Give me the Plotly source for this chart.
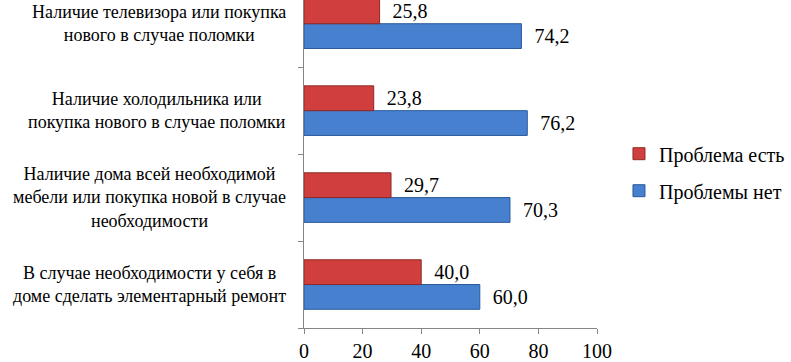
import plotly.graph_objects as go

categories = [
    "В случае необходимости у себя в<br>доме сделать элементарный ремонт",
    "Наличие дома всей необходимой<br>мебели или покупка новой в случае<br>необходимости",
    "Наличие холодильника или<br>покупка нового в случае поломки",
    "Наличие телевизора или покупка<br>нового в случае поломки",
]
no_problem = [60.0, 70.3, 76.2, 74.2]
has_problem = [40.0, 29.7, 23.8, 25.8]
series_names = ["Проблемы нет", "Проблема есть"]
x_ticks = [0, 20, 40, 60, 80, 100]

FONT = "Liberation Serif"
NB = "\u00a0\u00a0"

def fmt(v):
    return NB + f"{v:.1f}".replace(".", ",")

ypos = list(range(len(categories)))

fig = go.Figure()
fig.add_trace(go.Bar(
    y=ypos, x=no_problem, orientation="h", name=series_names[0],
    marker=dict(color="#4680CF", line=dict(color="#2A5A9A", width=1)),
    text=[fmt(v) for v in no_problem], textposition="outside",
    textfont=dict(family=FONT, size=20, color="#000000"),
    constraintext="none", cliponaxis=False, legendgroup="a", legendrank=2,
))
fig.add_trace(go.Bar(
    y=ypos, x=has_problem, orientation="h", name=series_names[1],
    marker=dict(color="#D03F3D", line=dict(color="#8E2A28", width=1)),
    text=[fmt(v) for v in has_problem], textposition="outside",
    textfont=dict(family=FONT, size=20, color="#000000"),
    constraintext="none", cliponaxis=False, legendgroup="b", legendrank=1,
))

annotations = []
for i, c in enumerate(categories):
    annotations.append(dict(
        x=-0.053, xref="paper", y=i, yref="y", text=c, showarrow=False,
        xanchor="right", yanchor="middle", align="center",
        font=dict(family=FONT, size=18, color="black"),
    ))

fig.update_layout(
    width=791, height=362,
    margin=dict(l=304, r=194, t=0, b=30),
    paper_bgcolor="white", plot_bgcolor="white",
    font=dict(family=FONT, size=17, color="black"),
    annotations=annotations,
    barmode="group", bargap=0.43, bargroupgap=0,
    showlegend=True,
    legend=dict(
        x=1.075, y=0.475, xanchor="left", yanchor="middle",
        traceorder="grouped", tracegroupgap=8,
        font=dict(family=FONT, size=20, color="black"),
    ),
    xaxis=dict(
        range=[0, 100], tickvals=x_ticks, ticktext=[str(t) for t in x_ticks],
        showgrid=False, zeroline=False, showline=True, linecolor="#868686",
        linewidth=1, ticks="outside", ticklen=5, tickcolor="#868686",
        tickfont=dict(family=FONT, size=20, color="#000000"),
    ),
    yaxis=dict(
        range=[-0.5, 3.5 - 20 / 88], tickvals=[-0.5, 0.5, 1.5, 2.5, 3.5],
        showticklabels=False, showgrid=False, zeroline=False,
        showline=True, linecolor="#868686", linewidth=1,
        ticks="outside", ticklen=5, tickcolor="#868686",
    ),
)

fig.write_html("out.html")
